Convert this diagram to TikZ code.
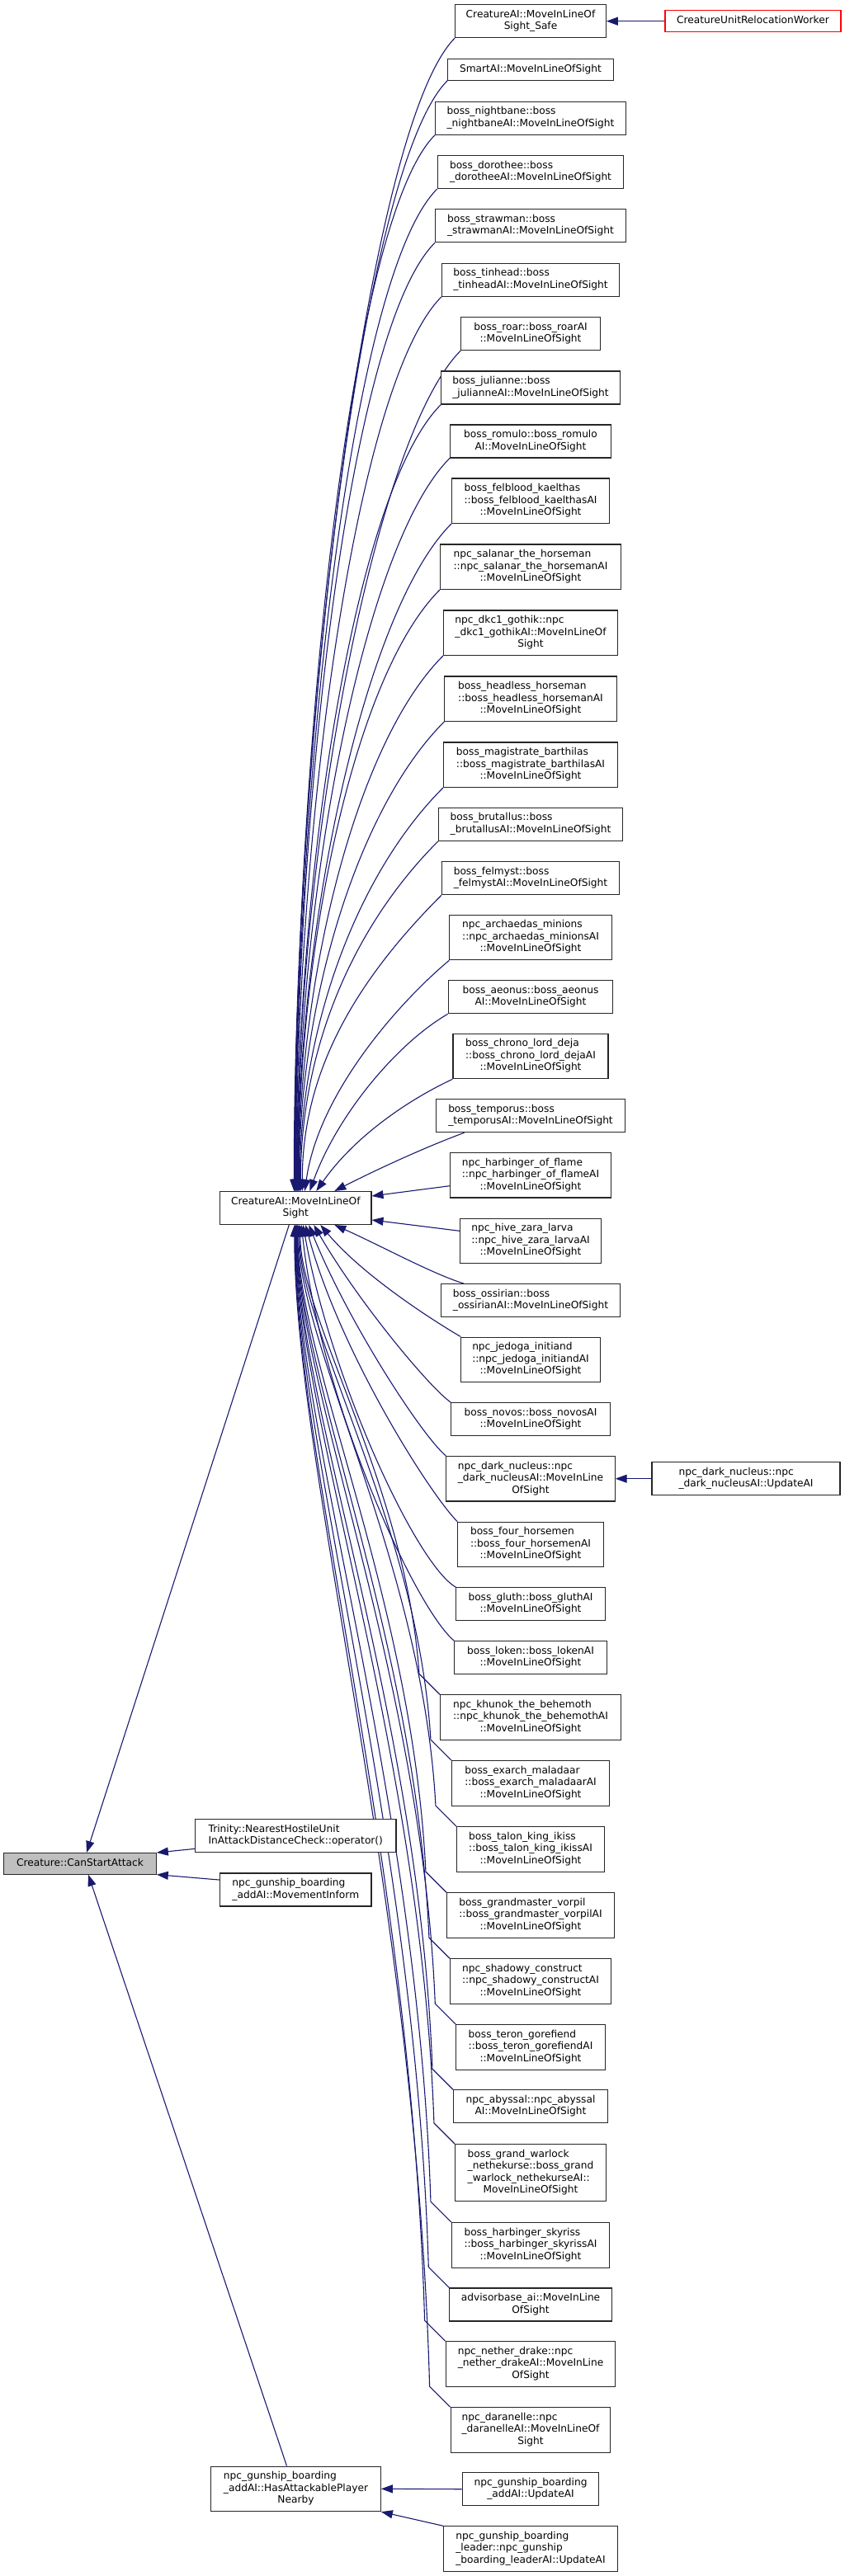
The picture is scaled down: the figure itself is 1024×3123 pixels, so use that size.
\documentclass[tikz,border=0pt]{standalone}
\usepackage{fontspec}
\setmainfont{DejaVu Sans}
\usepackage{tikz}
\usetikzlibrary{arrows.meta,backgrounds}
\usepackage{xcolor}

\definecolor{edgeblue}{HTML}{191970}
\definecolor{rootgray}{HTML}{BFBFBF}

% label: all lines left, last line centred
\newcommand{\lbl}[2]{\begin{tabular}{@{}l@{}}#1\\\multicolumn{1}{@{}c@{}}{#2}\end{tabular}}
\newcommand{\oneline}[1]{\begin{tabular}{@{}c@{}}#1\end{tabular}}

\tikzset{
  fnbox/.style={draw=black!85, line width=1.1pt, fill=white, inner xsep=2pt, inner ysep=5.5pt,
    font=\fontsize{12.2}{14.5}\selectfont},
  callarrow/.style={<-, draw=edgeblue, line width=1.1pt},
}

\begin{document}
\begin{tikzpicture}[x=1pt, y=-1pt, >={Triangle[length=14pt,width=10pt]}]
\useasboundingbox (0,0) rectangle (1024,3123);
% --- first column ---
\node[fnbox, fill=rootgray, minimum width=184.6] (csa) at (97,2259.3) {\oneline{Creature::CanStartAttack}};
\node[fnbox, minimum width=183.3] (mil) at (358.3,1464.5) {\lbl{CreatureAI::MoveInLineOf}{Sight}};
\node[fnbox, minimum width=243.3] (trinity) at (358.3,2225.8) {\lbl{Trinity::NearestHostileUnit}{InAttackDistanceCheck::operator()}};
\node[fnbox, minimum width=183.3] (movinform) at (358.3,2291) {\lbl{npc\_gunship\_boarding}{\_addAI::MovementInform}};
\node[fnbox, minimum width=205.6] (hasplayer) at (358.5,3017.3) {\lbl{npc\_gunship\_boarding\\\_addAI::HasAttackablePlayer}{Nearby}};
% --- second column ---
\node[fnbox, minimum width=182.6] (safe) at (643,25.7) {\lbl{CreatureAI::MoveInLineOf}{Sight\_Safe}};
\node[fnbox, minimum width=200.6] (smart) at (643,84.5) {\oneline{SmartAI::MoveInLineOfSight}};
\node[fnbox, minimum width=231] (nightbane) at (643,143.3) {\lbl{boss\_nightbane::boss}{\_nightbaneAI::MoveInLineOfSight}};
\node[fnbox, minimum width=225.7] (dorothee) at (643,208.7) {\lbl{boss\_dorothee::boss}{\_dorotheeAI::MoveInLineOfSight}};
\node[fnbox, minimum width=231] (strawman) at (643,273.8) {\lbl{boss\_strawman::boss}{\_strawmanAI::MoveInLineOfSight}};
\node[fnbox, minimum width=215] (tinhead) at (643,339.3) {\lbl{boss\_tinhead::boss}{\_tinheadAI::MoveInLineOfSight}};
\node[fnbox, minimum width=168.3] (roar) at (643,404.5) {\lbl{boss\_roar::boss\_roarAI}{::MoveInLineOfSight}};
\node[fnbox, minimum width=216.3] (julianne) at (643,470) {\lbl{boss\_julianne::boss}{\_julianneAI::MoveInLineOfSight}};
\node[fnbox, minimum width=195] (romulo) at (643,535) {\lbl{boss\_romulo::boss\_romulo}{AI::MoveInLineOfSight}};
\node[fnbox, minimum width=191] (felblood) at (643,607.2) {\lbl{boss\_felblood\_kaelthas\\::boss\_felblood\_kaelthasAI}{::MoveInLineOfSight}};
\node[fnbox, minimum width=219] (salanar) at (643,687.2) {\lbl{npc\_salanar\_the\_horseman\\::npc\_salanar\_the\_horsemanAI}{::MoveInLineOfSight}};
\node[fnbox, minimum width=211] (gothik) at (643,767.2) {\lbl{npc\_dkc1\_gothik::npc\\\_dkc1\_gothikAI::MoveInLineOf}{Sight}};
\node[fnbox, minimum width=208.3] (headless) at (643,847.2) {\lbl{boss\_headless\_horseman\\::boss\_headless\_horsemanAI}{::MoveInLineOfSight}};
\node[fnbox, minimum width=211] (magistrate) at (643,927.2) {\lbl{boss\_magistrate\_barthilas\\::boss\_magistrate\_barthilasAI}{::MoveInLineOfSight}};
\node[fnbox, minimum width=223] (brutallus) at (643,999.3) {\lbl{boss\_brutallus::boss}{\_brutallusAI::MoveInLineOfSight}};
\node[fnbox, minimum width=215] (felmyst) at (643,1064.7) {\lbl{boss\_felmyst::boss}{\_felmystAI::MoveInLineOfSight}};
\node[fnbox, minimum width=196.3] (archaedas) at (643,1136.5) {\lbl{npc\_archaedas\_minions\\::npc\_archaedas\_minionsAI}{::MoveInLineOfSight}};
\node[fnbox, minimum width=199.4] (aeonus) at (643,1208.7) {\lbl{boss\_aeonus::boss\_aeonus}{AI::MoveInLineOfSight}};
\node[fnbox, minimum width=188] (chrono) at (643,1280.5) {\lbl{boss\_chrono\_lord\_deja\\::boss\_chrono\_lord\_dejaAI}{::MoveInLineOfSight}};
\node[fnbox, minimum width=229.7] (temporus) at (643,1352.7) {\lbl{boss\_temporus::boss}{\_temporusAI::MoveInLineOfSight}};
\node[fnbox, minimum width=195] (harbinger) at (643,1424.7) {\lbl{npc\_harbinger\_of\_flame\\::npc\_harbinger\_of\_flameAI}{::MoveInLineOfSight}};
\node[fnbox, minimum width=171] (hivezara) at (643,1504.3) {\lbl{npc\_hive\_zara\_larva\\::npc\_hive\_zara\_larvaAI}{::MoveInLineOfSight}};
\node[fnbox, minimum width=216.3] (ossirian) at (643,1576.7) {\lbl{boss\_ossirian::boss}{\_ossirianAI::MoveInLineOfSight}};
\node[fnbox, minimum width=168.3] (jedoga) at (643,1648.3) {\lbl{npc\_jedoga\_initiand\\::npc\_jedoga\_initiandAI}{::MoveInLineOfSight}};
\node[fnbox, minimum width=192.3] (novos) at (643,1720.7) {\lbl{boss\_novos::boss\_novosAI}{::MoveInLineOfSight}};
\node[fnbox, minimum width=204.3] (darknucleus) at (643,1792.7) {\lbl{npc\_dark\_nucleus::npc\\\_dark\_nucleusAI::MoveInLine}{OfSight}};
\node[fnbox, minimum width=176.3] (fourhorsemen) at (643,1872.5) {\lbl{boss\_four\_horsemen\\::boss\_four\_horsemenAI}{::MoveInLineOfSight}};
\node[fnbox, minimum width=180.3] (gluth) at (643,1944.7) {\lbl{boss\_gluth::boss\_gluthAI}{::MoveInLineOfSight}};
\node[fnbox, minimum width=184.3] (loken) at (643,2009.7) {\lbl{boss\_loken::boss\_lokenAI}{::MoveInLineOfSight}};
\node[fnbox, minimum width=219] (khunok) at (643,2082) {\lbl{npc\_khunok\_the\_behemoth\\::npc\_khunok\_the\_behemothAI}{::MoveInLineOfSight}};
\node[fnbox, minimum width=191] (exarch) at (643,2161.8) {\lbl{boss\_exarch\_maladaar\\::boss\_exarch\_maladaarAI}{::MoveInLineOfSight}};
\node[fnbox, minimum width=179] (talonking) at (643,2241.8) {\lbl{boss\_talon\_king\_ikiss\\::boss\_talon\_king\_ikissAI}{::MoveInLineOfSight}};
\node[fnbox, minimum width=203] (vorpil) at (643,2322) {\lbl{boss\_grandmaster\_vorpil\\::boss\_grandmaster\_vorpilAI}{::MoveInLineOfSight}};
\node[fnbox, minimum width=195] (shadowy) at (643,2402) {\lbl{npc\_shadowy\_construct\\::npc\_shadowy\_constructAI}{::MoveInLineOfSight}};
\node[fnbox, minimum width=180.3] (teron) at (643,2482) {\lbl{boss\_teron\_gorefiend\\::boss\_teron\_gorefiendAI}{::MoveInLineOfSight}};
\node[fnbox, minimum width=187] (abyssal) at (643,2553.7) {\lbl{npc\_abyssal::npc\_abyssal}{AI::MoveInLineOfSight}};
\node[fnbox, minimum width=183] (nethekurse) at (643,2634) {\lbl{boss\_grand\_warlock\\\_nethekurse::boss\_grand\\\_warlock\_nethekurseAI::}{MoveInLineOfSight}};
\node[fnbox, minimum width=191] (skyriss) at (643,2721.8) {\lbl{boss\_harbinger\_skyriss\\::boss\_harbinger\_skyrissAI}{::MoveInLineOfSight}};
\node[fnbox, minimum width=196.3] (advisor) at (643,2794) {\lbl{advisorbase\_ai::MoveInLine}{OfSight}};
\node[fnbox, minimum width=205.7] (netherdrake) at (643,2866) {\lbl{npc\_nether\_drake::npc\\\_nether\_drakeAI::MoveInLine}{OfSight}};
\node[fnbox, minimum width=193.7] (daranelle) at (643,2946) {\lbl{npc\_daranelle::npc\\\_daranelleAI::MoveInLineOf}{Sight}};
\node[fnbox, minimum width=165.7] (gunshipadd) at (643,3017.7) {\lbl{npc\_gunship\_boarding}{\_addAI::UpdateAI}};
\node[fnbox, minimum width=211] (gunshiplead) at (643,3090) {\lbl{npc\_gunship\_boarding\\\_leader::npc\_gunship}{\_boarding\_leaderAI::UpdateAI}};
% --- third column ---
\node[fnbox, draw=red, minimum width=213] (relocworker) at (912.5,25.7) {\oneline{CreatureUnitRelocationWorker}};
\node[fnbox, minimum width=228] (nucleusupdate) at (904,1792.7) {\lbl{npc\_dark\_nucleus::npc}{\_dark\_nucleusAI::UpdateAI}};

\begin{scope}[on background layer]
\draw[callarrow] (safe.east) -- (relocworker.west);
\draw[callarrow] (darknucleus.east) -- (nucleusupdate.west);
% callers of CreatureAI::MoveInLineOfSight, above it
\foreach \s/\dx/\yb in {safe/-2/45.7, smart/-1.5/97.3, nightbane/-1/163.3, dorothee/-0.5/228.7, strawman/0/294,
    tinhead/0.5/359.3, roar/1/424.3, julianne/1.5/490, romulo/2/555, felblood/2.5/634.3, salanar/3/714.3,
    gothik/3.5/794.3, headless/4/874.3, magistrate/5/954.3, brutallus/6/1019.3, felmyst/8/1084.7}
  \draw[callarrow] ([xshift=\dx]mil.north) .. controls +(0,{-0.4*(1444.3-\yb)}) and +(-105,105) .. (\s.south west);
\foreach \s/\dx/\ao/\ra/\ai/\rb in {archaedas/11/82/120/220/80, aeonus/17/70/100/210/70, chrono/25/55/84/205/55}
  \draw[callarrow] ([xshift=\dx]mil.north) .. controls +(\ao:\ra pt) and +(\ai:\rb pt) .. (\s.south west);
\draw[callarrow] ([xshift=47]mil.north) .. controls +(27:68pt) and +(200:40pt) .. ([xshift=35]temporus.south west);
\draw[callarrow] ([yshift=14.5]mil.east) -- ([yshift=-13]harbinger.west);
\draw[callarrow] ([yshift=-14.5]mil.east) -- ([yshift=12]hivezara.west);
% below it
\draw[callarrow] ([xshift=47]mil.south) .. controls +(-24:60pt) and +(163:40pt) .. ([xshift=28]ossirian.north west);
\foreach \s/\dx/\ao/\ra/\ai/\rb in {jedoga/30/-50/85/150/26, novos/22/-60/107/145/32, darknucleus/16/-68/128/140/38,
    fourhorsemen/12/-75/158/135/48, gluth/9/-80/187/150/56, loken/7/-84/211/140/63}
  \draw[callarrow] ([xshift=\dx]mil.south) .. controls +(\ao:\ra pt) and +(\ai:\rb pt) .. (\s.north west);
\foreach \s/\dx/\yt in {khunok/5.5/2054.7, exarch/4.5/2134.7, talonking/3.5/2214.7, vorpil/2.5/2294.7,
    shadowy/2/2374.7, teron/1.5/2454.7, abyssal/1/2533.7, nethekurse/0.5/2599.3, skyriss/0/2694.3,
    advisor/-0.5/2774, netherdrake/-1/2838.7, daranelle/-1.5/2918.7}
  \draw[callarrow] ([xshift=\dx]mil.south) .. controls +(0,{0.21*(\yt-1510)}) and +(-16,{-0.42*(\yt-1510)})
    .. ([xshift=-25,yshift=25]\s.north west) -- (\s.north west);
% callers of Creature::CanStartAttack
\draw[callarrow] ([xshift=8]csa.north) -- ([xshift=-8]mil.south);
\draw[callarrow] (csa.north east) -- ([yshift=5]trinity.south west);
\draw[callarrow] (csa.south east) -- ([yshift=-8.6]movinform.north west);
\draw[callarrow] ([xshift=10]csa.south) -- ([xshift=-11]hasplayer.north);
\draw[callarrow] (hasplayer.east) -- (gunshipadd.west);
\draw[callarrow] (hasplayer.south east) -- (gunshiplead.north west);
\end{scope}
\end{tikzpicture}
\end{document}
